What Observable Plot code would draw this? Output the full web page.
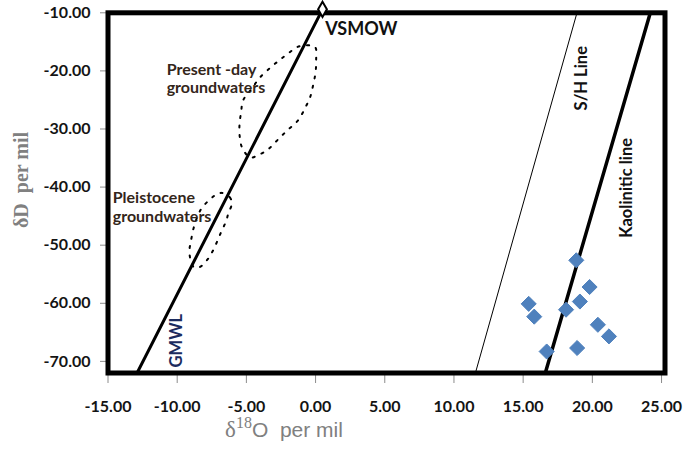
<!DOCTYPE html>
<html><head><meta charset="utf-8">
<script src="https://cdn.jsdelivr.net/npm/d3@7"></script>
<script src="https://cdn.jsdelivr.net/npm/@observablehq/plot@0.6"></script>
<style>body{margin:0;background:#fff;}</style>
</head><body><div id="chart"></div>
<script>
// ---- data ----
const xTicks = [-15, -10, -5, 0, 5, 10, 15, 20, 25];
const yTicks = [-10, -20, -30, -40, -50, -60, -70];

// samples (blue diamonds)
const sampleO = [18.84, 19.8, 19.1, 18.1, 15.4, 15.8, 20.4, 21.2, 16.7, 18.9];
const sampleD = [-52.6, -57.2, -59.7, -61.1, -60.1, -62.3, -63.7, -65.7, -68.3, -67.7];

// reference lines
const gmwlO = [-12.9, 0.5];
const gmwlD = [-72, -9.4];
const shO = [11.55, 18.89];
const shD = [-72, -10];
const kaoO = [16.6, 24.19];
const kaoD = [-72, -10];

// VSMOW point
const vsmowO = [0.5];
const vsmowD = [-9.4];

// dotted envelopes
const presentO = [-1.33, -0.61, -0.03, 0.04, 0.0, -0.18, -0.39, -0.76, -1.26, -1.98, -2.71, -3.43, -4.15, -4.73, -5.31, -5.49, -5.49, -5.38, -5.24, -4.59, -4.08, -3.29, -2.64, -1.98];
const presentD = [-15.9, -15.6, -15.9, -18.2, -20.2, -22.5, -24.5, -26.4, -28.5, -30.1, -31.8, -33.5, -34.5, -34.9, -33.2, -31.1, -29.0, -27.1, -25.1, -23.0, -21.3, -19.5, -18.2, -17.0];
const pleistO = [-6.78, -6.18, -6.06, -6.3, -6.47, -6.78, -7.1, -7.43, -7.82, -8.4, -8.83, -9.12, -9.02, -8.83, -8.56, -8.22, -7.62, -7.19];
const pleistD = [-41.0, -41.8, -42.9, -44.5, -45.9, -47.5, -49.3, -51.0, -52.5, -53.8, -53.7, -51.2, -49.5, -47.2, -45.2, -43.6, -42.1, -41.3];

// annotations
const noteText = ["VSMOW", "Present -day\ngroundwaters", "Pleistocene\ngroundwaters"];
const noteO = [0.69, -10.76, -14.66];
const noteD = [-11.55, -18.45, -40.57];
const rotText = ["GMWL", "S/H Line", "Kaolinitic line"];
const rotO = [-10.03, 19.2, 22.45];
const rotD = [-66.43, -21.26, -40.14];

const chart = Plot.plot({
  width: 685,
  height: 456,
  marginLeft: 107.5,
  marginRight: 20.5,
  marginTop: 12.3,
  marginBottom: 83.5,
  x: {domain: [-15, 25.25]},
  y: {domain: [-72, -10]},
  style: {fontFamily: "Lato, 'Liberation Sans', sans-serif", background: "white"},
  marks: [
    Plot.axisX({ticks: xTicks, tickFormat: d => d.toFixed(2), tickSize: 10.5, tickPadding: 17, stroke: "#8c8c8c", fill: "#141414", fontSize: 16, fontWeight: "bold", label: null}),
    Plot.axisY({ticks: yTicks, tickFormat: d => d.toFixed(2), tickSize: 7.5, tickPadding: 10, stroke: "#8c8c8c", fill: "#141414", fontSize: 16, fontWeight: "bold", label: null}),
    Plot.line(presentD, {x: presentO, y: presentD, curve: "catmull-rom-closed", stroke: "black", strokeWidth: 2, strokeDasharray: "2 7.5"}),
    Plot.line(pleistD, {x: pleistO, y: pleistD, curve: "catmull-rom-closed", stroke: "black", strokeWidth: 2, strokeDasharray: "2 7.5"}),
    Plot.line(gmwlD, {x: gmwlO, y: gmwlD, stroke: "black", strokeWidth: 3}),
    Plot.line(shD, {x: shO, y: shD, stroke: "black", strokeWidth: 1}),
    Plot.line(kaoD, {x: kaoO, y: kaoD, stroke: "black", strokeWidth: 3.5}),
    Plot.frame({stroke: "black", strokeWidth: 5}),
    Plot.dot(vsmowD, {x: vsmowO, y: vsmowD, symbol: "diamond", r: 4.6, fill: "white", stroke: "black", strokeWidth: 2}),
    Plot.dot(sampleD, {x: sampleO, y: sampleD, symbol: "diamond2", r: 6.8, fill: "#4f81bd", stroke: "#4f81bd", strokeWidth: 1}),
    Plot.text(noteText.slice(0, 1), {x: noteO.slice(0, 1), y: noteD.slice(0, 1), text: d => d, textAnchor: "start", lineAnchor: "top", fontSize: 18, fontWeight: "bold", fill: "#111"}),
    Plot.text(noteText.slice(1), {x: noteO.slice(1), y: noteD.slice(1), text: d => d, textAnchor: "start", lineAnchor: "top", fontSize: 16, fontWeight: "bold", lineHeight: 1.15, fill: "#33261a"}),
    Plot.text(rotText, {x: rotO, y: rotD, text: d => d, rotate: -90, textAnchor: "middle", lineAnchor: "middle", fontSize: 16.5, fontWeight: "bold", fill: (d, i) => i === 0 ? "#1c2b5e" : "#111"})
  ]
});

document.getElementById("chart").appendChild(chart);

// axis titles
const svg = d3.select(chart);
svg.append("text")
  .attr("transform", "translate(21,180) rotate(-90)")
  .attr("text-anchor", "middle")
  .attr("dy", "0.35em")
  .attr("fill", "#808080")
  .style("font-family", "'Liberation Serif', serif")
  .style("font-weight", "bold")
  .style("font-size", "20px")
  .text("δD  per mil");

const xt = svg.append("text")
  .attr("x", 284)
  .attr("y", 437)
  .attr("fill", "#808080");
xt.append("tspan").style("font-family", "'Liberation Serif', serif").style("font-size", "23px").text("δ");
xt.append("tspan").style("font-family", "'Liberation Serif', serif").style("font-size", "16px").attr("dy", -9).text("18");
xt.append("tspan").style("font-family", "'Liberation Sans', sans-serif").style("font-size", "21px").attr("dy", 9).text("O  per mil");
</script>
</body></html>
